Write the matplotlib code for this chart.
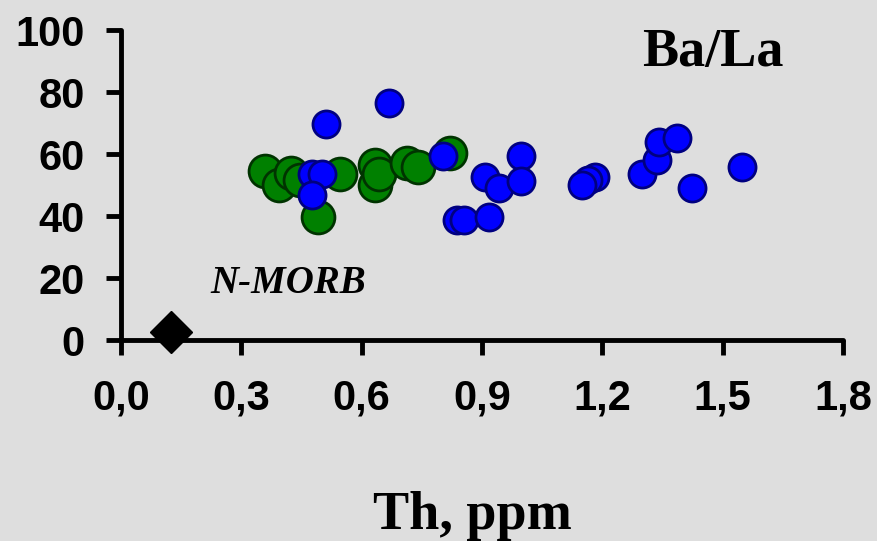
import matplotlib
matplotlib.use("Agg")
import matplotlib.pyplot as plt

# Data
green_th = [0.359, 0.394, 0.423, 0.446, 0.492, 0.546, 0.633, 0.633, 0.643, 0.712, 0.741, 0.820]
green_bala = [54.6, 50.0, 53.8, 51.6, 39.8, 53.5, 56.5, 50.0, 53.5, 57.0, 55.7, 60.4]

blue_th = [0.510, 0.669, 0.476, 0.500, 0.476, 0.804, 0.837, 0.855, 0.908, 0.943,
           0.998, 0.998, 0.918, 1.182, 1.165, 1.149, 1.298, 1.336, 1.342, 1.387,
           1.423, 1.548]
blue_bala = [69.6, 76.5, 53.5, 53.5, 46.8, 59.4, 38.7, 38.7, 52.5, 48.9,
             59.4, 51.3, 39.8, 52.5, 51.6, 50.0, 53.5, 58.1, 64.0, 65.1,
             48.9, 55.7]

nmorb_th = [0.125]
nmorb_bala = [2.6]

xticks = [0.0, 0.3, 0.6, 0.9, 1.2, 1.5, 1.8]
xticklabels = ["0,0", "0,3", "0,6", "0,9", "1,2", "1,5", "1,8"]
yticks = [0, 20, 40, 60, 80, 100]

bg = "#DEDEDE"
fig = plt.figure(figsize=(8.78, 5.41), dpi=100, facecolor=bg)
ax = fig.add_axes([121 / 878, 1 - 340 / 541, (843 - 121) / 878, (340 - 30) / 541])
ax.set_facecolor(bg)

ax.scatter(green_th, green_bala, s=560, c="#008000", edgecolors="#003300",
           linewidths=2.0, clip_on=False, zorder=3)
ax.scatter(blue_th, blue_bala, s=380, c="#0000FF", edgecolors="#000080",
           linewidths=2.0, clip_on=False, zorder=4)
ax.plot(nmorb_th, nmorb_bala, linestyle="none", marker="D", ms=21,
        color="black", clip_on=False, zorder=5)

ax.set_xlim(0, 1.8)
ax.set_ylim(0, 100)
ax.set_xticks(xticks)
ax.set_xticklabels(xticklabels)
ax.set_yticks(yticks)

for s in ["top", "right"]:
    ax.spines[s].set_visible(False)
for s in ["left", "bottom"]:
    ax.spines[s].set_linewidth(3.5)
    ax.spines[s].set_capstyle("round")
    ax.spines[s].set_zorder(2)

ax.tick_params(axis="both", direction="out", length=11, width=3.5, color="black")
ax.tick_params(axis="x", pad=17)
ax.tick_params(axis="y", pad=15)
for lab in ax.get_xticklabels() + ax.get_yticklabels():
    lab.set_fontfamily("Liberation Sans")
    lab.set_fontweight("bold")
    lab.set_fontsize(30)

fig.text(713 / 878, 1 - 66 / 541, "Ba/La", ha="center", va="baseline",
         fontfamily="Liberation Serif", fontweight="bold", fontsize=39)
fig.text(288 / 878, 1 - 293 / 541, "N-MORB", ha="center", va="baseline",
         fontfamily="Liberation Serif", fontweight="bold", fontstyle="italic", fontsize=28)
fig.text(472 / 878, 1 - 529 / 541, "Th, ppm", ha="center", va="baseline",
         fontfamily="Liberation Serif", fontweight="bold", fontsize=39)

fig.savefig("out.png", dpi=100, facecolor=bg)
